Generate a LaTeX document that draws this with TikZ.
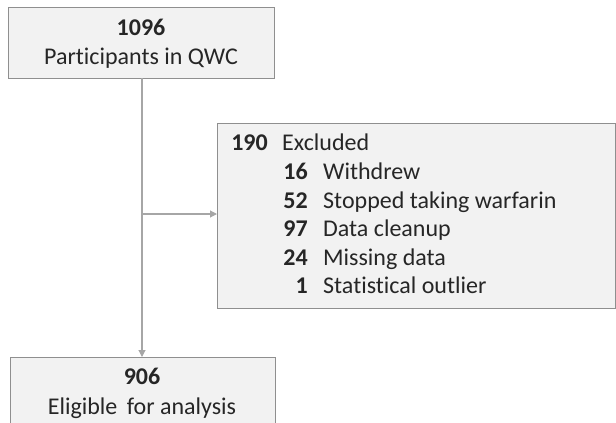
\documentclass[tikz,border=0pt]{standalone}
\usepackage{fontspec}
\setmainfont[Ligatures=NoCommon]{Carlito}
\usetikzlibrary{arrows.meta}
\definecolor{boxfill}{HTML}{F2F2F2}
\definecolor{boxline}{HTML}{8F8F8F}
\definecolor{conn}{HTML}{A6A6A6}
\definecolor{txt}{HTML}{262626}
\tikzset{
  box/.style={draw=boxline, fill=boxfill, line width=1pt, inner sep=0pt},
  conline/.style={draw=conn, line width=1.1pt},
  arr/.style={conline, -{Triangle[length=7pt,width=7pt]}},
  lbl/.style={text=txt, font=\fontsize{24}{28}\selectfont, inner sep=0pt, anchor=base},
  num/.style={text=txt, font=\fontsize{24}{28}\selectfont\bfseries, inner sep=0pt, anchor=base east},
  itm/.style={text=txt, font=\fontsize{24}{28}\selectfont, inner sep=0pt, anchor=base west},
}
\begin{document}
\begin{tikzpicture}[x=1pt,y=-1pt]
\useasboundingbox (0,0) rectangle (616,423);
% boxes
\path[box] (8,7) rectangle (274,78);
\coordinate (topB) at (142,78);
\node[lbl, font=\fontsize{24}{28}\selectfont\bfseries] (n1096) at (141,35) {1096};
\node[lbl] (part) at (141,64) {Participants in QWC};

\path[box] (217,123) rectangle (615,308);
\coordinate (exL) at (217,214);
\node[num] (n190) at (268,150) {190};
\node[itm] (excl) at (282,150) {Excluded};
\node[num] (n16) at (308,179) {16};
\node[itm] (wd) at (323,179) {Withdrew};
\node[num] (n52) at (308,208) {52};
\node[itm] (st) at (323,208) {Stopped taking warfarin};
\node[num] (n97) at (308,236) {97};
\node[itm] (dc) at (323,236) {Data cleanup};
\node[num] (n24) at (308,265) {24};
\node[itm] (md) at (323,265) {Missing data};
\node[num] (n1) at (308,293) {1};
\node[itm] (so) at (323,293) {Statistical outlier};

\path[box] (10,357) rectangle (275,430);
\coordinate (botT) at (142,357);
\node[lbl, font=\fontsize{24}{28}\selectfont\bfseries] (n906) at (142,384) {906};
\node[lbl] (elig) at (142,414) {Eligible\, for analysis};

% connectors
\coordinate (br) at (142,214);
\draw[arr] (topB) -- (botT);
\draw[arr] (br) -- (exL);
\end{tikzpicture}
\end{document}
